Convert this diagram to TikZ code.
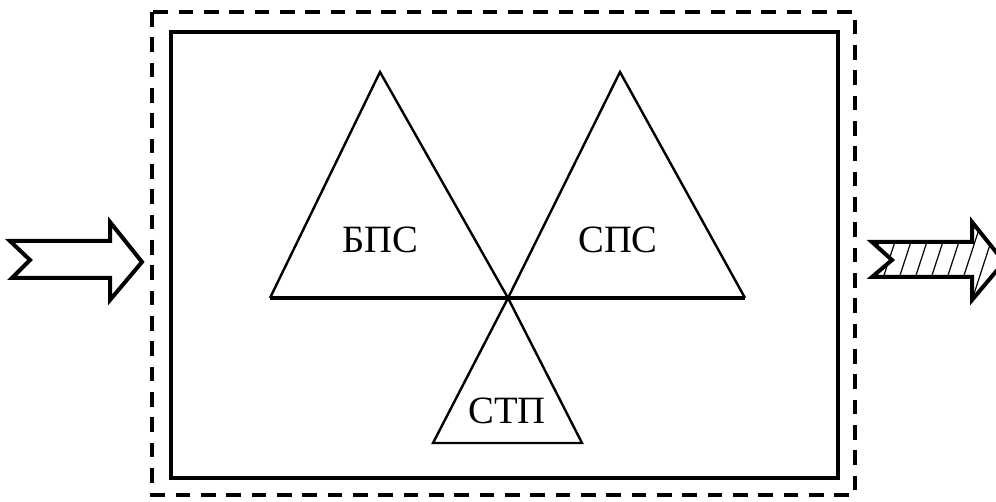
\documentclass[tikz,border=0pt]{standalone}
\usepackage{fontspec}
\setmainfont{Liberation Serif}
\usetikzlibrary{positioning}
\tikzset{
	outerframe/.style={line width=2.8pt, dash pattern=on 11pt off 8pt},
	innerframe/.style={line width=3.6pt},
	tri/.style={line width=1.8pt, line join=miter},
	baseline/.style={line width=2.8pt},
	blockarrow/.style={line width=3pt, line join=miter},
	hatch/.style={line width=0.9pt},
	sysname/.style={font=\fontsize{29}{31}\selectfont, inner sep=0pt},
}

\begin{document}
\begin{tikzpicture}[x=0.75pt,y=-0.75pt]
	\useasboundingbox (0,0) rectangle (996,502);

	% Frames
	\draw[outerframe] (152,12) rectangle (855,495);
	\draw[innerframe] (171,32) rectangle (838,478);

	% Triangles
	\coordinate (m) at (508,298);
	\coordinate (lb) at (270,298);
	\coordinate (la) at (380,72);
	\coordinate (ra) at (620,72);
	\coordinate (rb) at (745,298);
	\coordinate (bl) at (433,443);
	\coordinate (br) at (582,443);
	\draw[tri] (lb) -- (la) -- (m);
	\draw[tri] (m) -- (ra) -- (rb);
	\draw[baseline] (lb) -- (rb);
	\draw[tri] (m) -- (bl) -- (br) -- cycle;

	% Labels
	\node[sysname] (bps) at (380,240) {БПС};
	\node[sysname] (sps) at (618,240) {СПС};
	\node[sysname] (stp) at (507,411) {СТП};

	% Input arrow
	\draw[blockarrow] (10,241) -- (110,241) -- (110,222) -- (142,262) -- (110,300)
		-- (110,278) -- (12,278) -- (30,260) -- cycle;

	% Output arrow (hatched)
	\begin{scope}
		\clip (872,242) -- (972,242) -- (972,222) -- (1004,262) -- (972,300)
			-- (972,277) -- (872,277) -- (892,260) -- cycle;
		\foreach \x in {860,876,...,1000}
			\draw[hatch] (\x,300) -- (\x+26,220);
	\end{scope}
	\draw[blockarrow] (872,242) -- (972,242) -- (972,222) -- (1004,262) -- (972,300)
		-- (972,277) -- (872,277) -- (892,260) -- cycle;
\end{tikzpicture}
\end{document}
